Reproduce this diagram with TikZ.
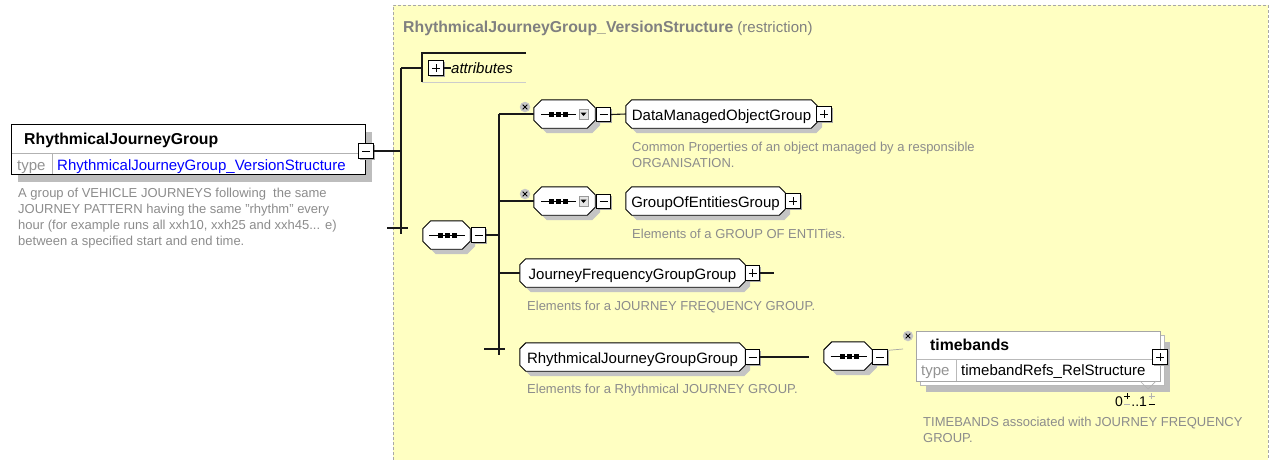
\documentclass[tikz,border=0pt]{standalone}
\usepackage{fontspec}
\setmainfont{Liberation Sans}
\usetikzlibrary{shadows,calc}
\definecolor{frameyel}{HTML}{FFFFC2}
\definecolor{framegray}{HTML}{A8A8A8}
\definecolor{descgray}{HTML}{8C8C8C}
\definecolor{titlegray}{HTML}{808080}
\definecolor{shadowgray}{HTML}{C4C4C4}
\definecolor{boxshadow}{HTML}{BDBDBD}
\definecolor{typeblue}{HTML}{0000FF}
\pgfdeclarelayer{bg}
\pgfsetlayers{bg,main}
\newcommand\chpath[4]{([xshift=#2+#3,yshift=#4]#1.north west) -- ([xshift=-#2+#3,yshift=#4]#1.north east) -- ([xshift=#3,yshift=-#2+#4]#1.north east) -- ([xshift=#3,yshift=#2+#4]#1.south east) -- ([xshift=-#2+#3,yshift=#4]#1.south east) -- ([xshift=#2+#3,yshift=#4]#1.south west) -- ([xshift=#3,yshift=#2+#4]#1.south west) -- ([xshift=#3,yshift=-#2+#4]#1.north west) -- cycle}
\newcommand\chshape[3]{%
  \begin{pgfonlayer}{bg}
  \fill[shadowgray] \chpath{#1}{#2}{#3}{-#3};
  \draw[line width=0.9pt, fill=white] \chpath{#1}{#2}{0pt}{0pt};
  \end{pgfonlayer}}
\newcommand\minussign[1]{\draw[line width=0.8pt] ([xshift=-4pt]#1.center) -- ([xshift=4pt]#1.center);}
\newcommand\plussign[1]{\minussign{#1}\draw[line width=0.8pt] ([yshift=-4pt]#1.center) -- ([yshift=4pt]#1.center);}
\newcommand\seqsym[4]{%
  \draw[line width=0.9pt] ([xshift=#2]#1.center) -- ([xshift=#3]#1.center);
  \foreach \k in {-7,0,7} {\fill ([xshift=#4+\k pt-2.5pt,yshift=-2.5pt]#1.center) rectangle ([xshift=#4+\k pt+2.5pt,yshift=2.5pt]#1.center);}}
\newcommand\dropdn[2]{%
  \fill[gray!20] ([xshift=#2-4.5pt,yshift=-5pt]#1.center) rectangle ([xshift=#2+4.5pt,yshift=5pt]#1.center);
  \draw[gray!80, line width=0.5pt] ([xshift=#2-4.5pt,yshift=-5pt]#1.center) rectangle ([xshift=#2+4.5pt,yshift=5pt]#1.center);
  \fill ([xshift=#2-3pt,yshift=1.5pt]#1.center) -- ([xshift=#2+3pt,yshift=1.5pt]#1.center) -- ([xshift=#2,yshift=-2pt]#1.center) -- cycle;}
\newcommand\xmark[1]{\draw[line width=0.9pt] ([xshift=-2.3pt,yshift=-2.3pt]#1.center) -- ([xshift=2.3pt,yshift=2.3pt]#1.center) ([xshift=-2.3pt,yshift=2.3pt]#1.center) -- ([xshift=2.3pt,yshift=-2.3pt]#1.center);}
% multiplicity marks: #1 node, #2 x offset from base east, #3 plus colour, #4 minus colour
\newcommand\multmarks[4]{%
  \draw[#3, line width=0.8pt] ([xshift=#2-3pt,yshift=10pt]#1.base east) -- ([xshift=#2+3pt,yshift=10pt]#1.base east) ([xshift=#2,yshift=7pt]#1.base east) -- ([xshift=#2,yshift=13pt]#1.base east);
  \draw[#4, line width=0.8pt] ([xshift=#2-3pt,yshift=1.5pt]#1.base east) -- ([xshift=#2+3pt,yshift=1.5pt]#1.base east);}
\begin{document}
\begin{tikzpicture}[x=1pt,y=-1pt,
  conn/.style={line width=1.1pt, draw=black!90},
  pmb/.style={rectangle, draw=black, fill=white, minimum size=14.5pt, inner sep=0pt, line width=0.8pt, general shadow={fill=gray!70, shadow xshift=1.5pt, shadow yshift=-1.5pt}},
  elemnode/.style={rectangle, minimum height=28pt, inner sep=0pt, text height=12.7pt, text depth=0pt, font=\fontsize{15}{18}\selectfont},
  seqnode/.style={rectangle, minimum height=28pt, inner sep=0pt},
  desc/.style={anchor=base west, inner sep=0pt, text=descgray, align=left, font=\fontsize{13}{16}\selectfont},
  lbl/.style={anchor=base west, inner sep=0pt, font=\fontsize{15}{18}\selectfont},
  boldlbl/.style={anchor=base west, inner sep=0pt, font=\bfseries\fontsize{15.8}{18}\selectfont},
  xcirc/.style={circle, fill=gray!45, minimum size=10.5pt, inner sep=0pt}]
\useasboundingbox (0,0) rectangle (1275,459);
\begin{pgfonlayer}{bg}
  \fill[frameyel] (393,5) rectangle (1268,470);
  \draw[framegray, densely dashed, line width=0.8pt] (393,470) -- (393,5) -- (1268,5) -- (1268,470);
\end{pgfonlayer}

% title
\node[anchor=base west, inner sep=0pt, text=titlegray, font=\fontsize{15}{18}\selectfont] (title) at (403,32) {{\bfseries\fontsize{15.8}{18}\selectfont RhythmicalJourneyGroup\_VersionStructure} (restriction)};

% main element
\node[rectangle, draw=black, line width=1pt, fill=white, minimum width=354pt, minimum height=50pt, inner sep=0pt, general shadow={fill=boxshadow, shadow xshift=7pt, shadow yshift=-8pt}] (main) at (188,149) {};
\draw[gray!60, line width=0.8pt] (12,153) -- (364,153);
\draw[gray!60, line width=0.8pt] (52,153) -- (52,173.5);
\node[boldlbl] (mainname) at (24,144) {RhythmicalJourneyGroup};
\node[lbl, text=gray!85] (maintypelbl) at (17,170) {type};
\node[lbl, text=typeblue] (maintype) at (57,170) {RhythmicalJourneyGroup\_VersionStructure};
\node[pmb] (mainpm) at (366,151) {};
\minussign{mainpm}
\node[desc] (maindesc) at (18,245) {A group of VEHICLE JOURNEYS following \ the same\\JOURNEY PATTERN having the same "rhythm" every\\hour (for example runs all xxh10, xxh25 and xxh45... e)\\between a specified start and end time.};

% first vertical
\coordinate (v1t) at (401,68);
\coordinate (v1b) at (401,234);
\coordinate (t1a) at (387,228);
\coordinate (t1b) at (408,228);
\draw[conn] (v1t) -- (v1b);
\draw[conn] (t1a) -- (t1b);
\draw[conn] (mainpm.east) -- (mainpm.east -| v1t);

% attributes
\coordinate (attbr) at (422,68);
\draw[conn] (526,53) -- (422,53) -- (422,82);
\draw[gray!40, line width=0.8pt] (422,82) -- (526,82);
\draw[conn] (v1t) -- (attbr);
\node[pmb] (attpm) at (436,68) {};
\plussign{attpm}
\node[anchor=west, inner sep=0pt, font=\itshape\fontsize{15}{18}\selectfont] (attr) at (451,68) {attributes};
\draw[conn] (attpm.east) -- (attr.west);

% sequence 1
\node[seqnode, minimum width=47pt] (seq1) at (446.5,235) {};
\chshape{seq1}{8pt}{5pt}
\seqsym{seq1}{-17.5pt}{18.5pt}{1pt}
\node[pmb] (seq1pm) at (478.5,235) {};
\minussign{seq1pm}

% second vertical
\coordinate (v2t) at (499,114);
\coordinate (v2b) at (499,355);
\coordinate (t2a) at (484,349);
\coordinate (t2b) at (505,349);
\draw[conn] (v2t) -- (v2b);
\draw[conn] (t2a) -- (t2b);
\draw[conn] (seq1pm.east) -- (seq1pm.east -| v2t);

% sequence 2 + DataManagedObjectGroup
\node[seqnode, minimum width=61pt] (seq2) at (564.5,114) {};
\chshape{seq2}{8pt}{5pt}
\seqsym{seq2}{-23.5pt}{11.5pt}{-6.5pt}
\dropdn{seq2}{19pt}
\node[xcirc] (x2) at (525,107) {};
\xmark{x2}
\node[pmb] (seq2pm) at (603.5,114.5) {};
\minussign{seq2pm}
\draw[conn] (v2t) -- (seq2.west);
\node[elemnode, minimum width=191pt] (dmog) at (721.5,114) {DataManagedObjectGroup};
\chshape{dmog}{6pt}{5pt}
\node[pmb] (dmogpm) at (824,114) {};
\plussign{dmogpm}
\draw[conn] (seq2pm.east) -- (dmog.west);
\node[desc] (dmogdesc) at (632,167) {Common Properties of an object managed by a responsible\\ORGANISATION.};

% sequence 3 + GroupOfEntitiesGroup
\node[seqnode, minimum width=61pt] (seq3) at (564.5,201) {};
\chshape{seq3}{8pt}{5pt}
\seqsym{seq3}{-23.5pt}{11.5pt}{-6.5pt}
\dropdn{seq3}{19pt}
\node[xcirc] (x3) at (525,194) {};
\xmark{x3}
\node[pmb] (seq3pm) at (603.5,201.5) {};
\minussign{seq3pm}
\draw[conn] (v2t |- seq3.west) -- (seq3.west);
\node[elemnode, minimum width=159pt] (goeg) at (705.5,201) {GroupOfEntitiesGroup};
\chshape{goeg}{6pt}{5pt}
\node[pmb] (goegpm) at (793,201) {};
\plussign{goegpm}
\node[desc] (goegdesc) at (632,238) {Elements of a GROUP OF ENTITies.};

% JourneyFrequencyGroupGroup
\node[elemnode, minimum width=225pt] (jfgg) at (632.5,273) {JourneyFrequencyGroupGroup};
\chshape{jfgg}{6pt}{5pt}
\node[pmb] (jfggpm) at (752.5,273) {};
\plussign{jfggpm}
\coordinate (jfggend) at (774,273);
\draw[conn] (v2t |- jfgg.west) -- (jfgg.west);
\draw[conn] (jfggpm.east) -- (jfggend);
\node[desc] (jfggdesc) at (527,310) {Elements for a JOURNEY FREQUENCY GROUP.};

% RhythmicalJourneyGroupGroup
\node[elemnode, minimum width=225pt] (rjgg) at (632.5,357) {RhythmicalJourneyGroupGroup};
\chshape{rjgg}{6pt}{5pt}
\node[pmb] (rjggpm) at (752.5,357) {};
\minussign{rjggpm}
\coordinate (rjggend) at (809,357);
\draw[conn] (rjggpm.east) -- (rjggend);
\node[desc] (rjggdesc) at (527,393) {Elements for a Rhythmical JOURNEY GROUP.};

% sequence 4
\node[seqnode, minimum width=48pt] (seq4) at (848,356) {};
\chshape{seq4}{8pt}{5pt}
\seqsym{seq4}{-17.5pt}{18.5pt}{1pt}
\node[pmb] (seq4pm) at (880,357) {};
\minussign{seq4pm}
\coordinate (s4end) at (903,349);
\draw[gray!70, line width=0.7pt] ([yshift=-1pt]seq4pm.north east) -- (s4end);

% timebands
\node[rectangle, draw=gray!55, line width=0.8pt, fill=white, minimum width=244pt, minimum height=50pt, inner sep=0pt, general shadow={fill=boxshadow, shadow xshift=6pt, shadow yshift=-7pt}] (tbback) at (1042,360) {};
\node[rectangle, draw=gray!70, line width=0.8pt, fill=white, minimum width=244pt, minimum height=50pt, inner sep=0pt] (tb) at (1038,356) {};
\draw[gray!55, line width=0.8pt] (917,359) -- (1159,359);
\draw[gray!55, line width=0.8pt] (956,359) -- (956,380.5);
\draw[gray!60, line width=0.7pt] (1140,381) -- (1148,389) -- (1156,381);
\node[boldlbl] (tbname) at (930,350) {timebands};
\node[lbl, text=gray!85] (tbtypelbl) at (921,375) {type};
\node[lbl] (tbtype) at (961,375) {timebandRefs\_RelStructure};
\node[pmb] (tbpm) at (1160,357) {};
\plussign{tbpm}
\node[xcirc] (x4) at (908,336) {};
\xmark{x4}
\node[anchor=base west, inner sep=0pt, font=\fontsize{14}{16}\selectfont] (mult0) at (1115,406) {0};
\node[anchor=base west, inner sep=0pt, font=\fontsize{14}{16}\selectfont] (mult1) at ([xshift=8pt]mult0.base east) {..1};
\multmarks{mult0}{4pt}{black}{gray!60}
\multmarks{mult1}{4.5pt}{gray!60}{black}
\node[desc] (tbdesc) at (923,442) {TIMEBANDS associated with JOURNEY FREQUENCY\\GROUP.};
\end{tikzpicture}
\end{document}
